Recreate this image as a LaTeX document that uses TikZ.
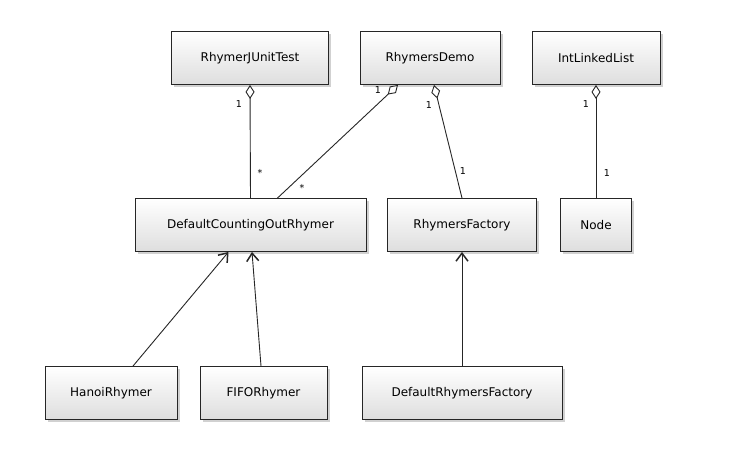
\documentclass[tikz,border=0pt]{standalone}
\usepackage{fontspec}
\setmainfont{DejaVu Sans}
\usetikzlibrary{arrows.meta,shadows,calc}
\tikzset{
  cls/.style={draw=black!85, line width=0.9pt, top color=white, bottom color=black!13,
    minimum height=53pt, inner sep=0pt, font=\fontsize{12}{14}\selectfont,
    drop shadow={shadow xshift=2.5pt, shadow yshift=-2.5pt, fill=black, opacity=0.18}},
  conn/.style={draw=black!85, line width=0.9pt},
  agg/.style={conn, {Diamond[open, fill=white, length=14pt, width=9pt]}-},
  gen/.style={conn, -{Straight Barb[length=8pt, width=12pt, line width=1.5pt]}},
  mult/.style={font=\fontsize{9.5}{10}\selectfont, inner sep=0pt}
}
\begin{document}
\begin{tikzpicture}[x=1pt, y=-1pt]
\useasboundingbox[fill=white] (0,0) rectangle (732,469);
% top row
\node[cls, minimum width=157pt] (rjut) at (250,58) {RhymerJUnitTest};
\node[cls, minimum width=140pt] (rd) at (430,58) {RhymersDemo};
\node[cls, minimum width=128pt] (ill) at (596,58) {IntLinkedList};
% middle row
\node[cls, minimum width=231pt] (dcor) at (250.5,225) {DefaultCountingOutRhymer};
\node[cls, minimum width=149pt] (rf) at (462,225) {RhymersFactory};
\node[cls, minimum width=71pt] (node) at (596,225) {Node};
% bottom row
\node[cls, minimum width=132pt] (hanoi) at (111,393) {HanoiRhymer};
\node[cls, minimum width=127pt] (fifo) at (263.5,393) {FIFORhymer};
\node[cls, minimum width=200pt] (drf) at (462,393) {DefaultRhymersFactory};
% aggregations
\draw[agg] (rjut.south) -- (dcor.north);
\draw[agg] ($(rd.south)+(-32,0)$) -- ($(dcor.north)+(27,0)$);
\draw[agg] ($(rd.south)+(4,0)$) -- (rf.north);
\draw[agg] (ill.south) -- (node.north);
% generalizations
\draw[gen] ($(hanoi.north)+(22,0)$) -- ($(dcor.south)+(-22,0)$);
\draw[gen] ($(fifo.north)+(-2.5,0)$) -- ($(dcor.south)+(1.5,0)$);
\draw[gen] (drf.north) -- (rf.south);
% multiplicities
\node[mult] (m1) at (239,104) {1};
\node[mult] (m2) at (260,173) {*};
\node[mult] (m3) at (378,90) {1};
\node[mult] (m4) at (302,188) {*};
\node[mult] (m5) at (429,105) {1};
\node[mult] (m6) at (463,171) {1};
\node[mult] (m7) at (586,104) {1};
\node[mult] (m8) at (607,173) {1};
\end{tikzpicture}
\end{document}
